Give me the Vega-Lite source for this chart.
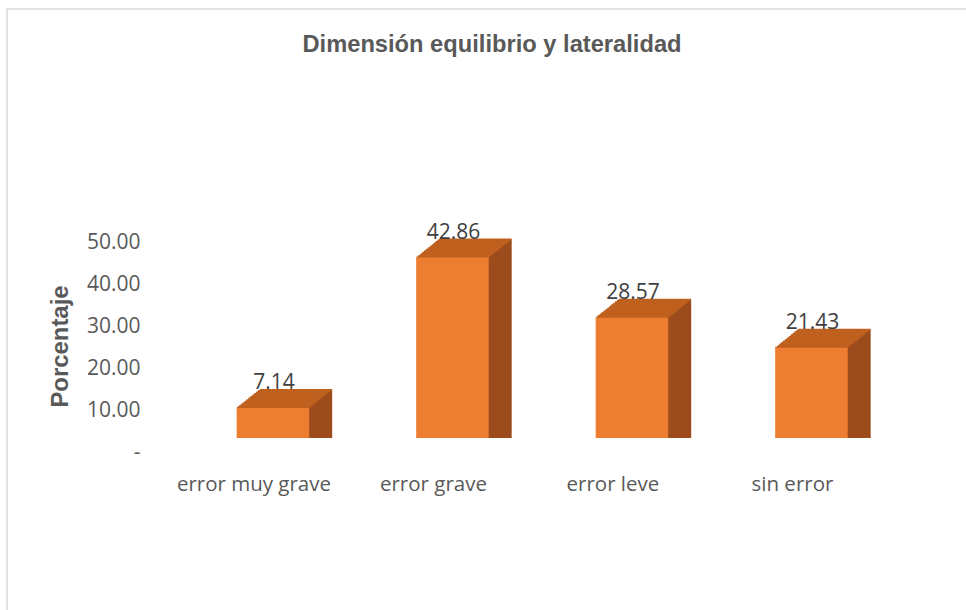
{
  "$schema": "https://vega.github.io/schema/vega-lite/v6.json",
  "width": 970,
  "height": 605,
  "autosize": {"type": "none"},
  "padding": {"left": 7, "top": 9, "right": 0, "bottom": 0},
  "background": "#FFFFFF",
  "config": {
    "view": {"stroke": "#D9D9D9", "strokeWidth": 1.5},
    "axis": {"grid": false, "domain": false, "ticks": false}
  },
  "title": {
    "text": "Dimensión equilibrio y lateralidad",
    "font": "Liberation Sans",
    "fontSize": 23.7,
    "fontWeight": "bold",
    "color": "#595959",
    "anchor": "middle",
    "baseline": "alphabetic",
    "offset": -67
  },
  "data": {
    "values": [
      {"categoria": "error muy grave", "porcentaje": 7.14},
      {"categoria": "error grave", "porcentaje": 42.86},
      {"categoria": "error leve", "porcentaje": 28.57},
      {"categoria": "sin error", "porcentaje": 21.43}
    ]
  },
  "encoding": {
    "x": {
      "field": "categoria",
      "type": "nominal",
      "sort": null,
      "scale": {"paddingInner": 0.596, "paddingOuter": 1.0197, "align": 0.6398},
      "axis": {
        "title": null,
        "labelAngle": 0,
        "labelFont": "Open Sans",
        "labelFontSize": 20.5,
        "labelColor": "#595959",
        "labelBaseline": "alphabetic",
        "labelPadding": -124,
        "labelOffset": -19
      }
    },
    "y": {
      "field": "porcentaje",
      "type": "quantitative",
      "scale": {"domain": [-41.8, 101.9], "nice": false, "zero": false},
      "axis": {
        "title": "Porcentaje",
        "titleFont": "Liberation Sans",
        "titleFontSize": 23.9,
        "titleFontWeight": "bold",
        "titleColor": "#595959",
        "titleAngle": -90,
        "titleX": 53,
        "titleY": 337,
        "titleAlign": "center",
        "titleBaseline": "middle",
        "values": [0, 10, 20, 30, 40, 50],
        "labelExpr": "datum.value == 0 ? '-\u00a0\u00a0' : format(datum.value, '.2f')",
        "labelFont": "Open Sans",
        "labelFontSize": 21,
        "labelColor": "#595959",
        "labelPadding": -133,
        "labelOffset": 14.5
      }
    }
  },
  "layer": [
    {"mark": {"type": "bar", "color": "#9C4C1C", "xOffset": 1.92, "yOffset": -1.54}, "encoding": {"y2": {"datum": 0}}},
    {"mark": {"type": "bar", "color": "#9C4C1C", "xOffset": 3.83, "yOffset": -3.08}, "encoding": {"y2": {"datum": 0}}},
    {"mark": {"type": "bar", "color": "#9C4C1C", "xOffset": 5.75, "yOffset": -4.63}, "encoding": {"y2": {"datum": 0}}},
    {"mark": {"type": "bar", "color": "#9C4C1C", "xOffset": 7.67, "yOffset": -6.17}, "encoding": {"y2": {"datum": 0}}},
    {"mark": {"type": "bar", "color": "#9C4C1C", "xOffset": 9.58, "yOffset": -7.71}, "encoding": {"y2": {"datum": 0}}},
    {"mark": {"type": "bar", "color": "#9C4C1C", "xOffset": 11.5, "yOffset": -9.25}, "encoding": {"y2": {"datum": 0}}},
    {"mark": {"type": "bar", "color": "#9C4C1C", "xOffset": 13.42, "yOffset": -10.79}, "encoding": {"y2": {"datum": 0}}},
    {"mark": {"type": "bar", "color": "#9C4C1C", "xOffset": 15.33, "yOffset": -12.33}, "encoding": {"y2": {"datum": 0}}},
    {"mark": {"type": "bar", "color": "#9C4C1C", "xOffset": 17.25, "yOffset": -13.88}, "encoding": {"y2": {"datum": 0}}},
    {"mark": {"type": "bar", "color": "#9C4C1C", "xOffset": 19.17, "yOffset": -15.42}, "encoding": {"y2": {"datum": 0}}},
    {"mark": {"type": "bar", "color": "#9C4C1C", "xOffset": 21.08, "yOffset": -16.96}, "encoding": {"y2": {"datum": 0}}},
    {"mark": {"type": "bar", "color": "#9C4C1C", "xOffset": 23, "yOffset": -18.5}, "encoding": {"y2": {"datum": 0}}},
    {"mark": {"type": "tick", "orient": "horizontal", "color": "#C0601F", "opacity": 1, "size": 72, "thickness": 2.2, "xOffset": 0, "yOffset": 0}},
    {"mark": {"type": "tick", "orient": "horizontal", "color": "#C0601F", "opacity": 1, "size": 72, "thickness": 2.2, "xOffset": 1.92, "yOffset": -1.54}},
    {"mark": {"type": "tick", "orient": "horizontal", "color": "#C0601F", "opacity": 1, "size": 72, "thickness": 2.2, "xOffset": 3.83, "yOffset": -3.08}},
    {"mark": {"type": "tick", "orient": "horizontal", "color": "#C0601F", "opacity": 1, "size": 72, "thickness": 2.2, "xOffset": 5.75, "yOffset": -4.63}},
    {"mark": {"type": "tick", "orient": "horizontal", "color": "#C0601F", "opacity": 1, "size": 72, "thickness": 2.2, "xOffset": 7.67, "yOffset": -6.17}},
    {"mark": {"type": "tick", "orient": "horizontal", "color": "#C0601F", "opacity": 1, "size": 72, "thickness": 2.2, "xOffset": 9.58, "yOffset": -7.71}},
    {"mark": {"type": "tick", "orient": "horizontal", "color": "#C0601F", "opacity": 1, "size": 72, "thickness": 2.2, "xOffset": 11.5, "yOffset": -9.25}},
    {"mark": {"type": "tick", "orient": "horizontal", "color": "#C0601F", "opacity": 1, "size": 72, "thickness": 2.2, "xOffset": 13.42, "yOffset": -10.79}},
    {"mark": {"type": "tick", "orient": "horizontal", "color": "#C0601F", "opacity": 1, "size": 72, "thickness": 2.2, "xOffset": 15.33, "yOffset": -12.33}},
    {"mark": {"type": "tick", "orient": "horizontal", "color": "#C0601F", "opacity": 1, "size": 72, "thickness": 2.2, "xOffset": 17.25, "yOffset": -13.88}},
    {"mark": {"type": "tick", "orient": "horizontal", "color": "#C0601F", "opacity": 1, "size": 72, "thickness": 2.2, "xOffset": 19.17, "yOffset": -15.42}},
    {"mark": {"type": "tick", "orient": "horizontal", "color": "#C0601F", "opacity": 1, "size": 72, "thickness": 2.2, "xOffset": 21.08, "yOffset": -16.96}},
    {"mark": {"type": "tick", "orient": "horizontal", "color": "#C0601F", "opacity": 1, "size": 72, "thickness": 1.8, "xOffset": 23, "yOffset": -18.1}},
    {"mark": {"type": "bar", "color": "#ED7D31"}, "encoding": {"y2": {"datum": 0}}},
    {
      "mark": {"type": "text", "font": "Open Sans", "fontSize": 21, "color": "#404040", "baseline": "alphabetic", "dy": -18.5, "dx": 1},
      "encoding": {"text": {"field": "porcentaje", "type": "quantitative", "format": ".2f"}}
    }
  ]
}
